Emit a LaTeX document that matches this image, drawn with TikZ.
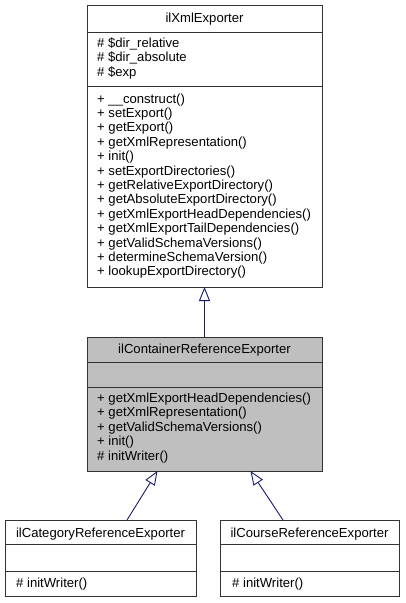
\documentclass[tikz,border=0pt]{standalone}
\usepackage{fontspec}
\setmainfont{Liberation Sans}
\usetikzlibrary{arrows.meta}
\definecolor{edgeblue}{HTML}{191970}
\definecolor{focusgray}{HTML}{BFBFBF}
\definecolor{border}{HTML}{333333}
\begin{document}
\begin{tikzpicture}[x=1pt,y=-1pt,
  box/.style={draw=border,line width=1pt,rectangle,inner sep=0pt,anchor=north west},
  sep/.style={draw=border,line width=1pt},
  txt/.style={inner sep=0pt,anchor=base west,font=\fontsize{13.1}{14.4}\selectfont},
  ttl/.style={inner sep=0pt,anchor=base,font=\fontsize{13.1}{14.4}\selectfont},
  inh/.style={draw=edgeblue,line width=0.9pt,-{Triangle[open,length=14pt,width=11pt,fill=white]}}
  ]
\useasboundingbox (0,0) rectangle (405,603);
% top box
\node[box,minimum width=235pt,minimum height=282pt] (xml) at (87,5) {};
\draw[sep] (87,32) -- (322,32);
\draw[sep] (87,86) -- (322,86);
\node[ttl] (xmlt) at (204.5,22) {ilXmlExporter};
\node[txt] (a1) at (97,47) {\# \$dir\_relative};
\node[txt] (a2) at (97,61.5) {\# \$dir\_absolute};
\node[txt] (a3) at (97,76) {\# \$exp};
\foreach \t [count=\i from 0] in {+ \_\_construct(),+ setExport(),+ getExport(),+ getXmlRepresentation(),+ init(),+ setExportDirectories(),+ getRelativeExportDirectory(),+ getAbsoluteExportDirectory(),+ getXmlExportHeadDependencies(),+ getXmlExportTailDependencies(),+ getValidSchemaVersions(),+ determineSchemaVersion(),+ lookupExportDirectory()}
  \node[txt] (m\i) at (97,103+14.4*\i) {\t};
% middle box
\node[box,fill=focusgray,minimum width=235pt,minimum height=134pt] (cre) at (87,337) {};
\draw[sep] (87,362) -- (322,362);
\draw[sep] (87,387) -- (322,387);
\node[ttl] (cret) at (204.5,353) {ilContainerReferenceExporter};
\foreach \t [count=\i from 0] in {+ getXmlExportHeadDependencies(),+ getXmlRepresentation(),+ getValidSchemaVersions(),+ init(),\# initWriter()}
  \node[txt] (c\i) at (97,402+14.5*\i) {\t};
% bottom left
\node[box,minimum width=191pt,minimum height=76pt] (cat) at (5,520) {};
\draw[sep] (5,544) -- (196,544);
\draw[sep] (5,571) -- (196,571);
\node[ttl] (catt) at (100.5,537) {ilCategoryReferenceExporter};
\node[txt] (catm) at (16,587) {\# initWriter()};
% bottom right
\node[box,minimum width=179pt,minimum height=76pt] (crs) at (220,520) {};
\draw[sep] (220,544) -- (399,544);
\draw[sep] (220,571) -- (399,571);
\node[ttl] (crst) at (309.5,537) {ilCourseReferenceExporter};
\node[txt] (crsm) at (232,587) {\# initWriter()};
% connectors
\coordinate (tipTop) at (204.5,287);
\coordinate (fromMid) at (204.5,337);
\coordinate (tipL) at (157.5,471);
\coordinate (fromL) at (127,520);
\coordinate (tipR) at (250.5,471);
\coordinate (fromR) at (283,520);
\draw[inh] (fromMid) -- (tipTop);
\draw[inh] (fromL) -- (tipL);
\draw[inh] (fromR) -- (tipR);
\end{tikzpicture}
\end{document}
